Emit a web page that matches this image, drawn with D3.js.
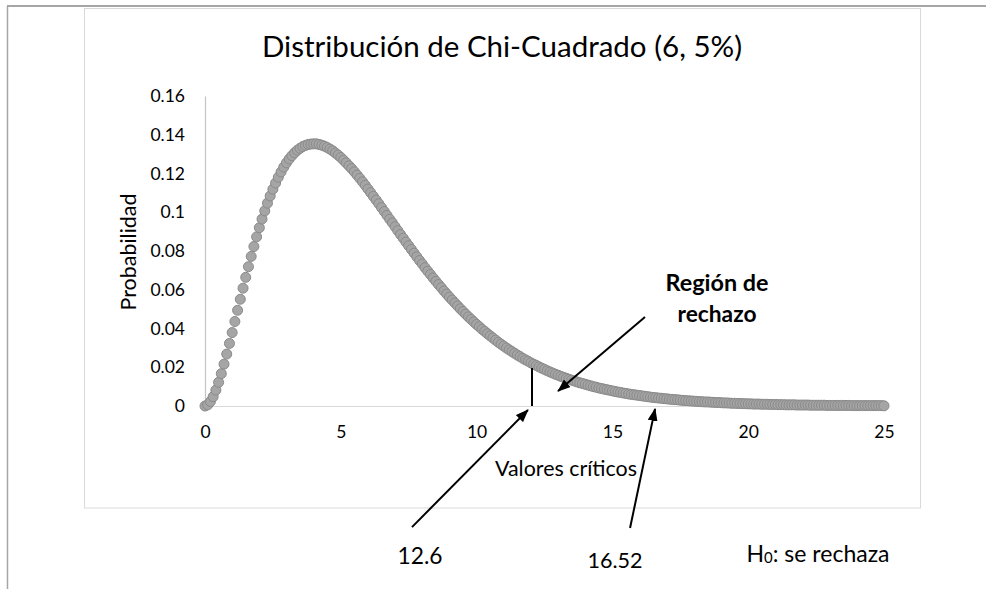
<!DOCTYPE html>
<html>
<head>
<meta charset="utf-8">
<style>
body { margin: 0; background: #fff; }
text { font-family: Lato, "Open Sans", sans-serif; fill: #000; }
</style>
</head>
<body>
<svg id="chart" width="986" height="589"></svg>
<script src="https://cdn.jsdelivr.net/npm/d3@7/dist/d3.min.js"></script>
<script>

// chi-square (6 df) values, x from 0 to 25 every 0.1
var xStart = 0,
	xStep = 0.1

var probs = [
	0, 0.0006, 0.0023, 0.0048, 0.0082, 0.0122, 0.0167, 0.0216, 0.0268, 0.0323,
	0.0379, 0.0436, 0.0494, 0.0551, 0.0608, 0.0664, 0.0719, 0.0772, 0.0823, 0.0873,
	0.0920, 0.0965, 0.1007, 0.1047, 0.1084, 0.1119, 0.1151, 0.1181, 0.1208, 0.1233,
	0.1255, 0.1275, 0.1292, 0.1307, 0.1320, 0.1330, 0.1339, 0.1345, 0.1350, 0.1352,
	0.1353, 0.1353, 0.1350, 0.1346, 0.1341, 0.1334, 0.1326, 0.1317, 0.1306, 0.1295,
	0.1283, 0.1269, 0.1255, 0.1240, 0.1225, 0.1209, 0.1192, 0.1175, 0.1157, 0.1139,
	0.1120, 0.1101, 0.1082, 0.1063, 0.1044, 0.1024, 0.1004, 0.0984, 0.0964, 0.0945,
	0.0925, 0.0905, 0.0885, 0.0866, 0.0846, 0.0827, 0.0808, 0.0789, 0.0770, 0.0751,
	0.0733, 0.0714, 0.0696, 0.0679, 0.0661, 0.0644, 0.0627, 0.0611, 0.0594, 0.0578,
	0.0562, 0.0547, 0.0532, 0.0517, 0.0502, 0.0488, 0.0474, 0.0460, 0.0447, 0.0434,
	0.0421, 0.0409, 0.0396, 0.0385, 0.0373, 0.0362, 0.0351, 0.0340, 0.0329, 0.0319,
	0.0309, 0.0299, 0.0290, 0.0281, 0.0272, 0.0263, 0.0255, 0.0246, 0.0238, 0.0231,
	0.0223, 0.0216, 0.0209, 0.0202, 0.0195, 0.0189, 0.0182, 0.0176, 0.0170, 0.0164,
	0.0159, 0.0153, 0.0148, 0.0143, 0.0138, 0.0133, 0.0129, 0.0124, 0.0120, 0.0116,
	0.0112, 0.0108, 0.0104, 0.0100, 0.0097, 0.0093, 0.0090, 0.0087, 0.0084, 0.0081,
	0.0078, 0.0075, 0.0072, 0.0070, 0.0067, 0.0065, 0.0062, 0.0060, 0.0058, 0.0056,
	0.0054, 0.0052, 0.0050, 0.0048, 0.0046, 0.0044, 0.0043, 0.0041, 0.0040, 0.0038,
	0.0037, 0.0035, 0.0034, 0.0033, 0.0032, 0.0030, 0.0029, 0.0028, 0.0027, 0.0026,
	0.0025, 0.0024, 0.0023, 0.0022, 0.0021, 0.0021, 0.0020, 0.0019, 0.0018, 0.0018,
	0.0017, 0.0016, 0.0016, 0.0015, 0.0014, 0.0014, 0.0013, 0.0013, 0.0012, 0.0012,
	0.0011, 0.0011, 0.0010, 0.0010, 0.0010, 0.0009, 0.0009, 0.0009, 0.0008, 0.0008,
	0.0008, 0.0007, 0.0007, 0.0007, 0.0006, 0.0006, 0.0006, 0.0006, 0.0005, 0.0005,
	0.0005, 0.0005, 0.0005, 0.0004, 0.0004, 0.0004, 0.0004, 0.0004, 0.0004, 0.0003,
	0.0003, 0.0003, 0.0003, 0.0003, 0.0003, 0.0003, 0.0003, 0.0003, 0.0002, 0.0002,
	0.0002, 0.0002, 0.0002, 0.0002, 0.0002, 0.0002, 0.0002, 0.0002, 0.0002, 0.0002,
	0.0001
]

var xTicks = [0, 5, 10, 15, 20, 25]
var yTicks = [0, 0.02, 0.04, 0.06, 0.08, 0.1, 0.12, 0.14, 0.16]

var title = 'Distribución de Chi-Cuadrado (6, 5%)',
	xTitle = 'Valores críticos',
	yTitle = 'Probabilidad'

// hand drawn annotations, in data units: [x1, y1, x2, y2]
var critLine = [12.04, 0, 12.04, 0.0196]
var arrows = [
	[7.62, -0.0625, 11.89, -0.0021],
	[15.65, -0.0630, 16.57, -0.0015],
	[16.20, 0.0459, 13.00, 0.0077]
]

var plot = {left: 205, right: 884, top: 96, bottom: 406}

var svg = d3.select('#chart')

// page edges of the screenshot
svg.append('line')
	.attr('x1', 7).attr('y1', 6).attr('x2', 986).attr('y2', 6)
	.style('stroke', '#a6a6a6').style('stroke-width', 2)
svg.append('line')
	.attr('x1', 7.5).attr('y1', 6).attr('x2', 7.5).attr('y2', 589)
	.style('stroke', '#a6a6a6').style('stroke-width', 1.5)

// chart area
svg.append('rect')
	.attr('x', 84.5).attr('y', 8.5).attr('width', 836).attr('height', 499.5)
	.style('fill', '#fff').style('stroke', '#d9d9d9').style('stroke-width', 1)

var x = d3.scaleLinear().domain([0, 25]).range([plot.left, plot.right])
var y = d3.scaleLinear().domain([0, 0.16]).range([plot.bottom, plot.top])

var fmt = function(d) { return String(+d.toFixed(2)) }

var yAxis = svg.append('g')
	.attr('transform', 'translate(' + plot.left + ',0)')
	.call(d3.axisLeft(y).tickValues(yTicks).tickFormat(fmt).tickSize(0).tickPadding(20))
yAxis.select('.domain').style('stroke', '#c4c4c4').style('stroke-width', 1.2)

var xAxis = svg.append('g')
	.attr('transform', 'translate(0,' + plot.bottom + ')')
	.call(d3.axisBottom(x).tickValues(xTicks).tickFormat(fmt).tickSize(0).tickPadding(20))
xAxis.select('.domain').style('stroke', '#d9d9d9').style('stroke-width', 1.2)

svg.selectAll('.tick text')
	.style('font-family', 'Lato, sans-serif')
	.style('font-size', '17.5px')
	.style('fill', '#000')

// fit a text to the width it has in the picture
function fitWidth(sel, w) {
	var size = parseFloat(sel.style('font-size'))
	var len = sel.node().getComputedTextLength()
	sel.style('font-size', (size * w / len).toFixed(2) + 'px')
}

var t = svg.append('text')
	.attr('x', 502).attr('y', 45)
	.attr('text-anchor', 'middle').attr('dominant-baseline', 'central')
	.style('font-size', '30px')
	.text(title)
fitWidth(t, 480)

t = svg.append('text')
	.attr('transform', 'translate(128,252) rotate(-90)')
	.attr('text-anchor', 'middle').attr('dominant-baseline', 'central')
	.style('font-size', '19px')
	.text(yTitle)
fitWidth(t, 117)

t = svg.append('text')
	.attr('x', 566).attr('y', 468)
	.attr('text-anchor', 'middle').attr('dominant-baseline', 'central')
	.style('font-size', '21px')
	.text(xTitle)
fitWidth(t, 142)

// the series, drawn in order so later points sit on top
svg.append('g')
	.selectAll('circle')
	.data(probs)
	.join('circle')
	.attr('cx', function(d, i) { return x(xStart + i * xStep) })
	.attr('cy', function(d) { return y(d) })
	.attr('r', 5)
	.style('fill', '#a5a5a5')
	.style('stroke', '#8a8a8a')
	.style('stroke-width', 1)

// annotations
svg.append('defs').append('marker')
	.attr('id', 'head')
	.attr('viewBox', '0 0 13 10')
	.attr('refX', 12).attr('refY', 5)
	.attr('markerWidth', 13).attr('markerHeight', 10)
	.attr('markerUnits', 'userSpaceOnUse')
	.attr('orient', 'auto')
	.append('path')
	.attr('d', 'M0,0L13,5L0,10Z')
	.style('fill', '#000')

svg.append('line')
	.attr('x1', x(critLine[0])).attr('y1', y(critLine[1]))
	.attr('x2', x(critLine[2])).attr('y2', y(critLine[3]))
	.style('stroke', '#000').style('stroke-width', 2)

svg.selectAll('.arrow')
	.data(arrows)
	.join('line')
	.attr('class', 'arrow')
	.attr('x1', function(d) { return x(d[0]) })
	.attr('y1', function(d) { return y(d[1]) })
	.attr('x2', function(d) { return x(d[2]) })
	.attr('y2', function(d) { return y(d[3]) })
	.attr('marker-end', 'url(#head)')
	.style('stroke', '#000').style('stroke-width', 2)

t = svg.append('text')
	.attr('x', 717).attr('y', 282)
	.attr('text-anchor', 'middle').attr('dominant-baseline', 'central')
	.style('font-size', '19px').style('font-weight', 'bold')
	.text('Región de')
fitWidth(t, 103)

t = svg.append('text')
	.attr('x', 717).attr('y', 313)
	.attr('text-anchor', 'middle').attr('dominant-baseline', 'central')
	.style('font-size', '19px').style('font-weight', 'bold')
	.text('rechazo')
fitWidth(t, 79)

t = svg.append('text')
	.attr('x', 420).attr('y', 555)
	.attr('text-anchor', 'middle').attr('dominant-baseline', 'central')
	.style('font-size', '22px')
	.text('12.6')
fitWidth(t, 45)

t = svg.append('text')
	.attr('x', 615).attr('y', 560)
	.attr('text-anchor', 'middle').attr('dominant-baseline', 'central')
	.style('font-size', '22px')
	.text('16.52')
fitWidth(t, 55)

t = svg.append('text')
	.attr('x', 818).attr('y', 553)
	.attr('text-anchor', 'middle').attr('dominant-baseline', 'central')
	.style('font-size', '22px')
t.append('tspan').text('H')
t.append('tspan').attr('dy', 4).style('font-size', '0.65em').text('0')
t.append('tspan').attr('dy', -4).text(': se rechaza')
fitWidth(t, 143)

</script>
</body>
</html>
